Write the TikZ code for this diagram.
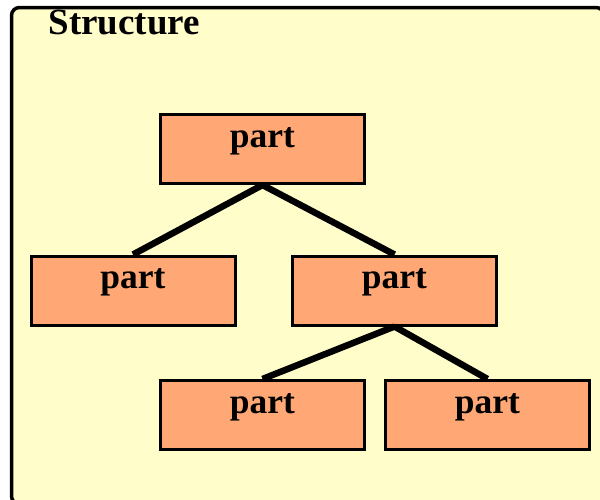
\documentclass[tikz,border=0pt]{standalone}
\usepackage{fontspec}
\setmainfont{Liberation Serif}
\definecolor{structfill}{HTML}{FFFDCA}
\definecolor{partfill}{HTML}{FFA875}
\begin{document}
\begin{tikzpicture}[x=1pt,y=-1pt,
    part/.style={draw,line width=3pt,fill=partfill,inner sep=0pt,
      minimum width=204pt,minimum height=69pt,
      text height=20pt,text depth=24pt,
      font=\fontsize{35.5}{40}\selectfont\bfseries},
    link/.style={line width=6.5pt}]
  \useasboundingbox (0,0) rectangle (600,499);
  \clip (0,0) rectangle (600,499);
  \draw[line width=3.5pt,fill=structfill,rounded corners=8pt]
    (11.5,7.5) rectangle (604,504);
  \node[anchor=base west,font=\fontsize{37}{42}\selectfont\bfseries]
    (title) at (45,34) {Structure};
  \draw
    (262.5,149) node[part] (root){part}
    (133,290.5) node[part] (left){part}
    (394.5,290.5) node[part] (right){part}
    (262.5,415) node[part] (rightleft){part}
    (487.5,415) node[part] (rightright){part};
  \begin{scope}[link]
    \draw (root.south) to (left.north);
    \draw (root.south) to (right.north);
    \draw (right.south) to (rightleft.north);
    \draw (right.south) to (rightright.north);
  \end{scope}
\end{tikzpicture}
\end{document}
